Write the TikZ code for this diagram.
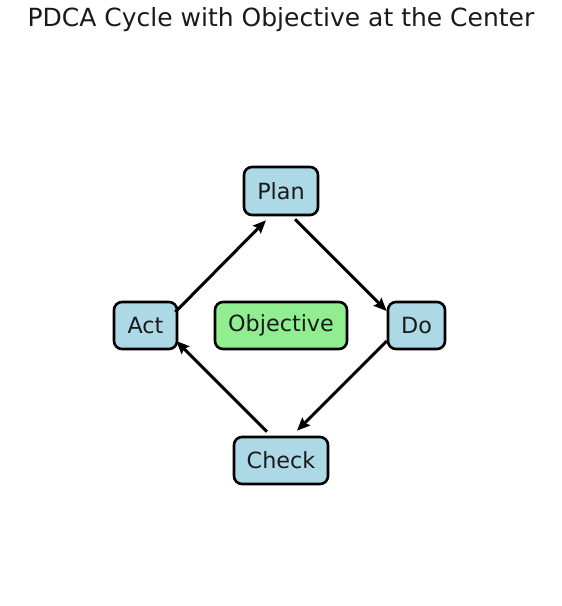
\documentclass[tikz,border=0pt]{standalone}
\usepackage{fontspec}
\setmainfont{DejaVu Sans}
\usetikzlibrary{arrows.meta}
\definecolor{boxblue}{HTML}{ADD8E6}
\definecolor{boxgreen}{HTML}{90EE90}
\definecolor{txt}{HTML}{1A1A1A}
\tikzset{
  stage/.style={draw=black, line width=2.6pt, rounded corners=8pt, fill=boxblue,
    inner sep=0pt, text=txt, font=\fontsize{22.3}{25}\selectfont},
  center/.style={stage, fill=boxgreen},
  flow/.style={line width=3pt, -{Stealth[length=13pt,width=11pt,inset=2pt]}},
}
\begin{document}
\begin{tikzpicture}[x=1pt,y=-1pt]
\useasboundingbox (0,0) rectangle (562,606);
\node[font=\fontsize{25}{29}\selectfont, text=txt] (title) at (281,20) {PDCA Cycle with Objective at the Center};
\node[stage, minimum width=74pt, minimum height=48pt] (plan) at (281,191) {Plan};
\node[stage, minimum width=57pt, minimum height=47pt] (do) at (416.5,325.5) {Do};
\node[stage, minimum width=63pt, minimum height=47pt] (act) at (145.5,325.5) {Act};
\node[stage, minimum width=94pt, minimum height=47pt] (check) at (281,460.5) {Check};
\node[center, minimum width=132pt, minimum height=47pt] (obj) at (281,325.5) {Objective};
\draw[flow] ([xshift=14pt,yshift=-3pt]plan.south) -- ([yshift=14.5pt]do.west);
\draw[flow] ([yshift=-15.5pt]do.west) -- ([xshift=16pt,yshift=5pt]check.north);
\draw[flow] ([xshift=-14pt,yshift=4pt]check.north) -- ([xshift=-2pt,yshift=-15.5pt]act.east);
\draw[flow] ([xshift=-3pt,yshift=13.5pt]act.east) -- ([xshift=-15pt,yshift=-4pt]plan.south);
\end{tikzpicture}
\end{document}
